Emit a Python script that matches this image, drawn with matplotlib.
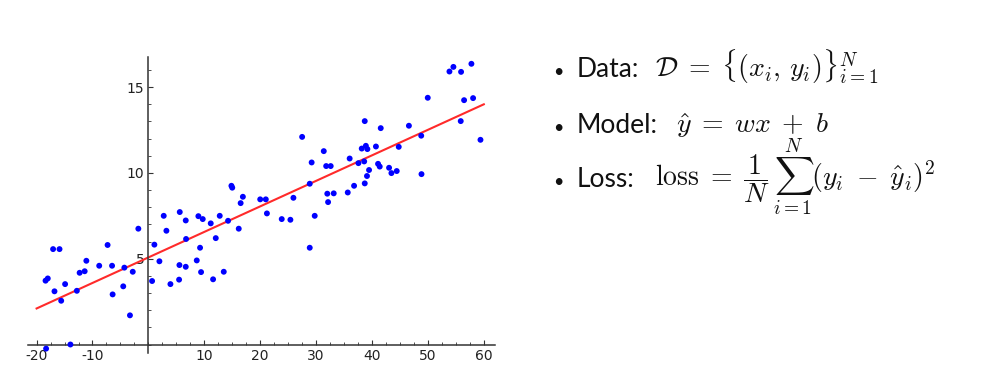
import matplotlib
matplotlib.use("Agg")
import matplotlib.pyplot as plt
from matplotlib.ticker import MultipleLocator

# scatter data
x_vals = [-18.4, -18.0, -18.3, -17.05, -15.9, -16.8, -15.6, -14.9, -13.95, -12.8,
          -12.3, -11.4, -11.1, -8.8, -7.3, -6.5, -6.4, -4.5, -4.3, -3.3,
          -2.8, -1.8, 0.66, 1.07, 1.97, 2.74, 3.22, 3.94, 5.49, 5.55,
          5.61, 6.68, 6.68, 6.74, 8.65, 8.94, 9.24, 9.42, 9.72, 11.15,
          11.57, 12.05, 12.76, 13.48, 14.25, 14.85, 15.0, 16.16, 16.5, 16.9,
          20.0, 21.0, 21.2, 23.85, 25.4, 25.94, 27.5, 28.86, 28.86, 29.2,
          29.75, 31.37, 31.8, 32.0, 32.14, 32.61, 33.15, 35.66, 36.0, 36.79,
          37.57, 38.16, 38.6, 38.7, 38.7, 38.9, 39.1, 39.17, 39.47, 40.7,
          41.08, 41.38, 41.56, 43.05, 43.47, 44.42, 44.78, 46.6, 48.8, 48.85,
          49.97, 53.85, 54.56, 55.93, 55.87, 56.47, 57.78, 58.08, 59.4]
y_vals = [3.72, 3.85, -0.24, 5.56, 5.56, 3.10, 2.55, 3.52, 0.0, 3.13,
          4.18, 4.27, 4.88, 4.59, 5.80, 4.59, 2.92, 3.39, 4.48, 1.70,
          4.24, 6.75, 3.70, 5.82, 4.85, 7.50, 6.63, 3.52, 3.78, 4.63,
          7.72, 4.53, 7.23, 6.15, 4.90, 7.48, 5.64, 4.22, 7.31, 7.06,
          3.80, 6.20, 7.50, 4.24, 7.21, 9.25, 9.14, 6.75, 8.24, 8.61,
          8.46, 8.46, 7.64, 7.31, 7.27, 8.55, 12.1, 5.64, 9.37, 10.61,
          7.50, 11.27, 10.40, 8.79, 8.30, 10.40, 8.81, 8.86, 10.84, 9.25,
          10.57, 11.42, 10.67, 13.02, 9.39, 11.58, 9.82, 11.39, 10.17, 11.54,
          10.53, 10.37, 12.61, 10.30, 9.99, 10.11, 11.52, 12.75, 12.17, 9.93,
          14.38, 15.91, 16.18, 15.89, 13.02, 14.24, 16.36, 14.36, 11.93]

# fitted line end points
line_x = [-20, 60]
line_y = [2.1, 14.0]

x_ticks = [-20, -10, 10, 20, 30, 40, 50, 60]
y_ticks = [5, 10, 15]

labels = ["Data:", "Model:", "Loss:"]
formulas = [
    r"$\mathcal{D}\;=\;\{(x_i,\, y_i)\}_{i=1}^{N}$",
    r"$\hat{y}\;=\;wx\;+\;b$",
    r"$\mathrm{loss}\;=\;\dfrac{1}{N}\,\sum_{i=1}^{N}(y_i\;-\;\hat{y}_i)^2$",
]

plt.rcParams['mathtext.fontset'] = 'cm'
plt.rcParams['axes.unicode_minus'] = False

fig = plt.figure(figsize=(9.91, 3.82), dpi=100)
ax = fig.add_axes([0.0279, 0.0757, 0.4716, 0.7748])

ax.scatter(x_vals, y_vals, s=18, c='#0000ff', edgecolors='none', zorder=3)
ax.plot(line_x, line_y, color='#ff2a2a', lw=1.5, zorder=2)

ax.set_xlim(-21.6, 62)
ax.set_ylim(-0.5, 16.75)

ax.spines['left'].set_position(('data', 0))
ax.spines['bottom'].set_position(('data', 0))
ax.spines['top'].set_visible(False)
ax.spines['right'].set_visible(False)
for s in ['left', 'bottom']:
    ax.spines[s].set_color('#333333')
    ax.spines[s].set_linewidth(1.1)

ax.set_xticks(x_ticks)
ax.set_yticks(y_ticks)
ax.xaxis.set_minor_locator(MultipleLocator(2.5))
ax.yaxis.set_minor_locator(MultipleLocator(1))
ax.tick_params(which='both', direction='in', color='#333333', labelcolor='#222222',
               labelsize=10)
ax.tick_params(which='major', length=3.5, width=0.8, pad=3)
ax.tick_params(which='minor', length=2.2, width=0.6)

# right hand text: bullet, label, formula
baselines = [76.7, 133, 186.7]
math_x = [655, 676, 655]
for label, formula, by, mx in zip(labels, formulas, baselines, math_x):
    yf = 1 - by / 382
    fig.text(553 / 991, yf, "\u2022", fontsize=13, family='Lato', color='#111111', va='baseline')
    fig.text(577 / 991, yf, label, fontsize=19, family='Lato',
             color='#111111', va='baseline')
    fig.text(mx / 991, yf, formula, fontsize=20, color='#111111', va='baseline')

fig.savefig("out.png", dpi=100)
